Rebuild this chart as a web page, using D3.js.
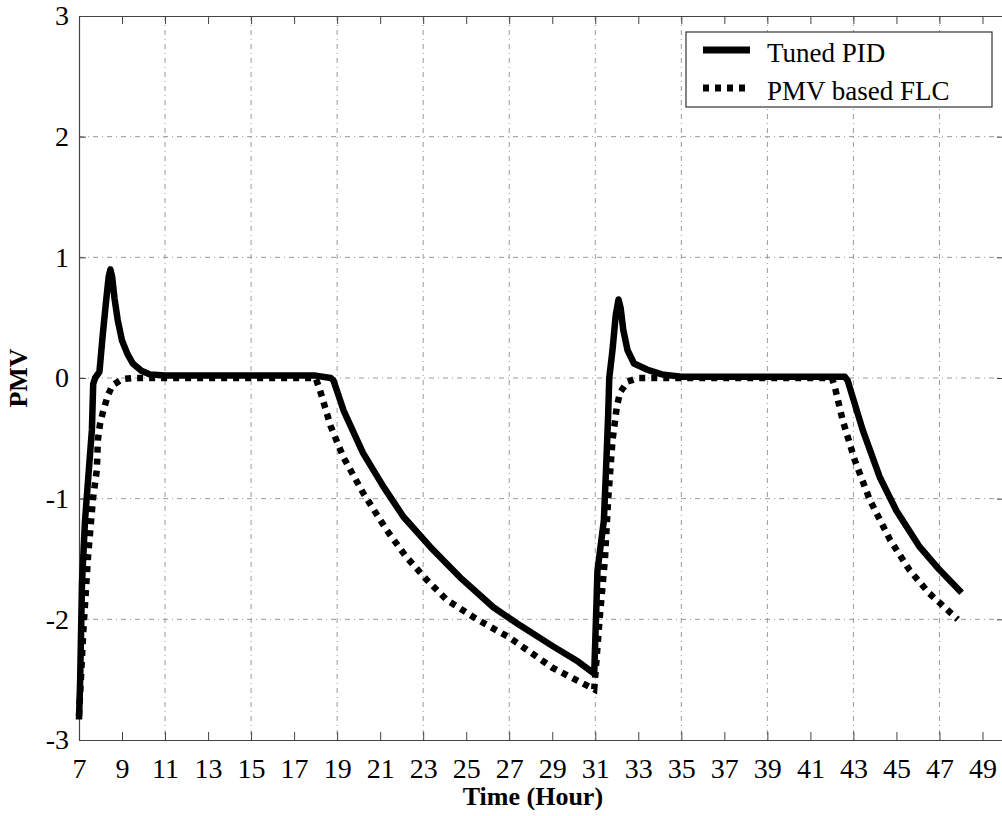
<!DOCTYPE html>
<html>
<head>
<meta charset="utf-8">
<script src="https://cdn.jsdelivr.net/npm/d3@7"></script>
<style>
  body { margin: 0; background: #fff; }
  text { font-family: "Liberation Serif", "Times New Roman", serif; fill: #000; }
</style>
</head>
<body>
<div id="graph"></div>
<script>
// data
const pidX = [7.0, 7.05, 7.14, 7.28, 7.42, 7.6, 7.66, 7.75, 7.95, 8.1, 8.25, 8.38, 8.46, 8.54, 8.65, 8.8, 9.0, 9.25, 9.5, 9.9, 10.3, 11, 14, 18.0, 18.7, 18.83,
  19.3, 20.2, 21.15, 22.08, 23.33, 24.7, 26.26, 27.5, 29, 30.2, 30.95, 31.05, 31.1, 31.4, 31.5, 31.6, 31.65, 31.8, 31.95, 32.08, 32.18, 32.3, 32.5, 32.8,
  33.4, 34.1, 35, 42.6, 42.73, 43.43, 44.22, 45.0, 46.08, 47.0, 48.03];
const pidY = [-2.83, -2.53, -1.70, -1.18, -0.85, -0.43, -0.05, 0, 0.05, 0.35, 0.62, 0.84, 0.9, 0.84, 0.66, 0.48, 0.31, 0.2, 0.12, 0.06, 0.03, 0.02, 0.02, 0.02, 0.0, -0.02,
  -0.27, -0.62, -0.9, -1.15, -1.40, -1.65, -1.9, -2.05, -2.22, -2.35, -2.45, -1.9, -1.6, -1.18, -0.76, -0.3, 0, 0.23, 0.52, 0.65, 0.58, 0.4, 0.23, 0.12,
  0.07, 0.03, 0.01, 0.01, -0.02, -0.43, -0.82, -1.1, -1.40, -1.59, -1.78];

const flcX = [7.0, 7.2, 7.42, 7.65, 7.83, 7.88, 7.97, 8.1, 8.35, 8.56, 9.0, 9.5, 18.0, 18.2, 18.7, 19.3, 20.2, 21.3, 22.2, 23.15, 24.1, 25.5, 27, 29, 30.95,
  31.2, 31.45, 31.6, 31.8, 32.0, 32.15, 32.5, 33, 42.0, 42.13, 42.5, 43.06, 43.76, 44.7, 45.6, 46.5, 47.85];
const flcY = [-2.8, -2.1, -1.48, -1.0, -0.76, -0.51, -0.39, -0.29, -0.14, -0.06, -0.01, 0, 0, -0.1, -0.4, -0.66, -0.95, -1.26, -1.48, -1.67, -1.84, -2.0, -2.15, -2.4, -2.58,
  -2.0, -1.5, -1.0, -0.52, -0.24, -0.12, -0.03, 0, 0, -0.07, -0.35, -0.68, -1.01, -1.34, -1.59, -1.78, -2.0];

const xTicks = d3.range(7, 50, 2);
const yTicks = [-3, -2, -1, 0, 1, 2, 3];
const xGrid = d3.range(11, 50, 4);
const yGrid = [-2, -1, 0, 1, 2];
const seriesNames = ["Tuned PID", "PMV based FLC"];

// set the dimensions and margins of the graph
const margin = { top: 16, right: -2, bottom: 76, left: 79 },
  width = 1002 - margin.left - margin.right,
  height = 816 - margin.top - margin.bottom;

const svg = d3.select("#graph")
  .append("svg")
  .attr("width", 1002)
  .attr("height", 816)
  .append("g")
  .attr("transform", `translate(${margin.left},${margin.top})`);

const x = d3.scaleLinear().domain([7, 50]).range([0, width]);
const y = d3.scaleLinear().domain([-3, 3]).range([height, 0]);

// grid
svg.append("g")
  .selectAll("line")
  .data(xGrid)
  .join("line")
  .attr("x1", d => x(d)).attr("x2", d => x(d))
  .attr("y1", 0).attr("y2", height)
  .attr("stroke", "#999").attr("stroke-width", 1)
  .attr("stroke-dasharray", "5,4,1,4");
svg.append("g")
  .selectAll("line")
  .data(yGrid)
  .join("line")
  .attr("x1", 0).attr("x2", width)
  .attr("y1", d => y(d)).attr("y2", d => y(d))
  .attr("stroke", "#999").attr("stroke-width", 1)
  .attr("stroke-dasharray", "5,4,1,4");

// axes (ticks inward)
const xAxis = svg.append("g")
  .attr("transform", `translate(0, ${height})`)
  .call(d3.axisBottom(x).tickValues(xTicks).tickSize(-8).tickPadding(14).tickSizeOuter(0));
const xTop = svg.append("g")
  .call(d3.axisTop(x).tickValues(xTicks).tickSize(-8).tickFormat("").tickSizeOuter(0));
const yAxis = svg.append("g")
  .call(d3.axisLeft(y).tickValues(yTicks).tickSize(-7).tickPadding(14).tickSizeOuter(0)
    .tickFormat(d => String(d)));
const yRight = svg.append("g")
  .attr("transform", `translate(${width}, 0)`)
  .call(d3.axisRight(y).tickValues(yTicks).tickSize(-7).tickFormat("").tickSizeOuter(0));

[xAxis, xTop, yAxis, yRight].forEach(a => {
  a.selectAll("path").attr("stroke", "#444").attr("stroke-width", 1.2);
  a.selectAll("line").attr("stroke", "#444");
  a.selectAll("text").style("font-size", "28px").style("font-family", "'Liberation Serif', serif");
});
xAxis.selectAll("text").attr("dy", "0.85em");
yAxis.selectAll("text").attr("x", -10).attr("dy", "0.32em");

// lines
const line = d3.line()
  .x(d => x(d[0]))
  .y(d => y(d[1]));

svg.append("path")
  .datum(pidX.map((v, i) => [v, pidY[i]]))
  .attr("fill", "none")
  .attr("stroke", "#000")
  .attr("stroke-width", 6.5)
  .attr("stroke-linejoin", "round")
  .attr("d", line);

svg.append("path")
  .datum(flcX.map((v, i) => [v, flcY[i]]))
  .attr("fill", "none")
  .attr("stroke", "#000")
  .attr("stroke-width", 6.5)
  .attr("stroke-dasharray", "6,6")
  .attr("d", line);

// axis titles
svg.append("text")
  .attr("x", x(28.1))
  .attr("y", height + 65)
  .attr("text-anchor", "middle")
  .style("font-size", "26px")
  .style("font-weight", "bold")
  .text("Time (Hour)");

svg.append("text")
  .attr("transform", `translate(${-52}, ${y(0)}) rotate(-90)`)
  .attr("text-anchor", "middle")
  .style("font-size", "26px")
  .style("font-weight", "bold")
  .text("PMV");

// legend
const legend = svg.append("g")
  .attr("transform", `translate(${686 - margin.left}, ${32 - margin.top})`);
legend.append("rect")
  .attr("width", 306).attr("height", 75)
  .attr("fill", "#fff").attr("stroke", "#333").attr("stroke-width", 1.2);
seriesNames.forEach((name, i) => {
  legend.append("line")
    .attr("x1", 17).attr("x2", 64)
    .attr("y1", 18 + i * 38).attr("y2", 18 + i * 38)
    .attr("stroke", "#000").attr("stroke-width", 7)
    .attr("stroke-dasharray", i == 1 ? "6,6" : null);
  legend.append("text")
    .attr("x", 81)
    .attr("y", 30 + i * 38)
    .style("font-size", "27px")
    .text(name);
});
</script>
</body>
</html>
